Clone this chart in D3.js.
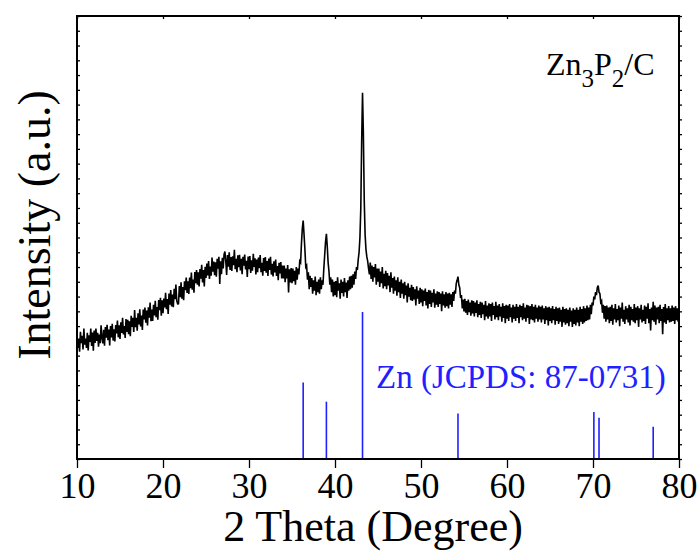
<!DOCTYPE html>
<html>
<head>
<meta charset="utf-8">
<script src="https://cdn.jsdelivr.net/npm/d3@7"></script>
<style>
  body { margin: 0; background: #fff; }
  text { font-family: "Liberation Serif", "Times New Roman", serif; }
</style>
</head>
<body>
<svg id="chart" width="700" height="556"></svg>
<script>
// XRD scan of Zn3P2/C, 2theta from 10 to 80 deg, step 0.1 deg
const thetaStart = 10;
const thetaStep = 0.1;
const intensity = [
  847, 753, 815, 726, 862, 784, 835, 742, 883, 775,           // 10
  816, 752, 854, 735, 837, 793, 884, 766, 857, 734,           // 11
  870, 786, 883, 799, 855, 761, 843, 784, 905, 822,           // 12
  783, 875, 767, 894, 821, 908, 805, 877, 769, 901,           // 13
  823, 915, 802, 879, 796, 908, 850, 937, 824, 906,           // 14
  813, 926, 853, 956, 844, 901, 819, 947, 860, 942,           // 15
  845, 933, 832, 970, 894, 957, 860, 1009, 892, 956,          // 16
  869, 987, 911, 1014, 898, 971, 874, 1013, 946, 1025,        // 17
  923, 1006, 905, 1028, 957, 1060, 933, 1012, 935, 1044,      // 18
  972, 1071, 960, 1029, 943, 1077, 1007, 1091, 970, 1074,     // 19
  988, 1087, 1026, 1125, 1014, 1083, 982, 1121, 1045, 1144,   // 20
  1033, 1113, 1028, 1152, 1082, 1182, 1072, 1050, 1051, 1171, // 21
  1096, 1196, 1085, 1165, 1075, 1204, 1144, 1229, 1124, 1203, // 22
  1118, 1228, 1157, 1262, 1147, 1216, 1126, 1266, 1191, 1280, // 23
  1180, 1264, 1168, 1287, 1221, 1315, 1195, 1279, 1168, 1302, // 24
  1226, 1324, 1243, 1341, 1220, 1303, 1241, 1365, 1268, 1337, // 25
  1245, 1332, 1234, 1356, 1288, 1370, 1185, 1339, 1251, 1363, // 26
  1290, 1386, 1405, 1339, 1246, 1382, 1303, 1400, 1281, 1368, // 27
  1274, 1373, 1313, 1417, 1286, 1356, 1265, 1379, 1299, 1383, // 28
  1277, 1356, 1251, 1370, 1309, 1384, 1283, 1342, 1232, 1371, // 29
  1285, 1375, 1260, 1345, 1275, 1390, 1300, 1360, 1250, 1350, // 30
  1265, 1364, 1292, 1381, 1265, 1328, 1242, 1361, 1274, 1368, // 31
  1262, 1341, 1239, 1358, 1281, 1370, 1249, 1322, 1236, 1339, // 32
  1263, 1351, 1239, 1307, 1210, 1328, 1256, 1334, 1222, 1310, // 33
  1223, 1310, 1197, 1290, 1222, 1314, 1127, 1284, 1196, 1293, // 34
  1190, 1290, 1205, 1275, 1180, 1300, 1215, 1290, 1250, 1340, // 35
  1330, 1460, 1560, 1615, 1520, 1420, 1300, 1310, 1215, 1265, // 36
  1150, 1240, 1165, 1225, 1120, 1210, 1140, 1235, 1110, 1200, // 37
  1130, 1215, 1120, 1230, 1150, 1210, 1180, 1290, 1380, 1470, // 38
  1525, 1440, 1330, 1270, 1180, 1230, 1130, 1215, 1100, 1200, // 39
  1110, 1205, 1095, 1230, 1140, 1190, 1085, 1215, 1125, 1200, // 40
  1100, 1225, 1130, 1195, 1090, 1210, 1140, 1235, 1150, 1240, // 41
  1160, 1250, 1180, 1270, 1220, 1300, 1280, 1350, 1400, 1500, // 42
  1700, 2150, 2480, 2200, 1750, 1520, 1420, 1370, 1340, 1290, // 43
  1250, 1330, 1220, 1310, 1200, 1300, 1230, 1320, 1180, 1290, // 44
  1200, 1290, 1165, 1270, 1190, 1300, 1155, 1255, 1170, 1275, // 45
  1150, 1260, 1175, 1240, 1130, 1265, 1160, 1225, 1120, 1235, // 46
  1140, 1210, 1105, 1230, 1130, 1200, 1090, 1215, 1120, 1190, // 47
  1085, 1200, 1110, 1175, 1060, 1190, 1100, 1160, 1075, 1180, // 48
  1070, 1165, 1080, 1150, 1040, 1170, 1085, 1140, 1050, 1160, // 49
  1060, 1150, 1035, 1140, 1070, 1155, 1040, 1130, 1020, 1145, // 50
  1050, 1140, 1030, 1125, 1060, 1150, 1025, 1120, 1045, 1135, // 51
  1030, 1130, 1050, 1120, 1000, 1135, 1040, 1115, 1025, 1130, // 52
  1035, 1120, 1020, 1125, 1045, 1115, 1030, 1130, 1070, 1140, // 53
  1120, 1190, 1210, 1235, 1180, 1160, 1090, 1110, 1020, 1080, // 54
  1000, 1085, 990, 1070, 975, 1080, 995, 1060, 970, 1075,     // 55
  985, 1070, 965, 1060, 990, 1075, 960, 1050, 975, 1065,      // 56
  955, 1060, 980, 1045, 940, 1070, 965, 1040, 950, 1055,      // 57
  965, 1050, 935, 1060, 975, 1035, 945, 1065, 960, 1040,      // 58
  940, 1050, 965, 1030, 930, 1055, 955, 1035, 920, 1045,      // 59
  950, 1040, 935, 1050, 960, 1025, 925, 1045, 950, 1030,      // 60
  935, 1050, 955, 1030, 920, 1045, 960, 1035, 940, 1055,      // 61
  950, 1025, 930, 1045, 955, 1040, 915, 1035, 945, 1050,      // 62
  940, 1030, 925, 1045, 950, 1025, 930, 1040, 945, 1030,      // 63
  925, 1040, 945, 1020, 915, 1035, 940, 1025, 905, 1030,      // 64
  935, 1020, 920, 1035, 940, 1015, 910, 1030, 935, 1020,      // 65
  915, 1025, 930, 1010, 895, 1030, 925, 1015, 910, 1020,      // 66
  920, 1010, 900, 1025, 930, 1005, 895, 1020, 915, 1010,      // 67
  905, 1025, 925, 1010, 900, 1030, 930, 1015, 915, 1035,      // 68
  925, 1020, 935, 1040, 940, 1025, 945, 1045, 980, 1060,      // 69
  1040, 1100, 1080, 1130, 1110, 1160, 1175, 1130, 1120, 1060, // 70
  1070, 990, 1045, 950, 1035, 930, 1040, 945, 1025, 920,      // 71
  1030, 935, 1045, 910, 1020, 945, 1050, 925, 1015, 940,      // 72
  1040, 900, 1025, 950, 1060, 930, 1010, 915, 1035, 945,      // 73
  1020, 925, 1045, 905, 1030, 940, 1015, 930, 1050, 920,      // 74
  1025, 940, 1035, 895, 1020, 945, 1045, 925, 1010, 935,      // 75
  1040, 915, 1030, 950, 1055, 920, 1015, 870, 1025, 940,      // 76
  1065, 930, 1040, 910, 1025, 945, 1030, 920, 1045, 935,      // 77
  1015, 845, 1030, 925, 1050, 915, 1020, 940, 1035, 925,      // 78
  1020, 930, 1040, 935, 1025, 915, 1035, 940, 1020, 930,      // 79
  1025                                                        // 80
];

// Zn reference pattern (JCPDS 87-0731)
const refTheta = [ 36.3, 39.0, 43.2, 54.3, 70.1, 70.7, 77.0 ];
const refIntensity = [ 52, 39, 100, 31, 32, 28, 22 ];

const xTicks = [ 10, 20, 30, 40, 50, 60, 70, 80 ];

const svg = d3.select( "#chart" );
const margin = { top: 16, left: 77, right: 21, bottom: 97 };
const width = 700 - margin.left - margin.right;
const height = 556 - margin.top - margin.bottom;

const chartGroup = svg.append( "g" )
  .attr( "transform", `translate(${margin.left}, ${margin.top})` );

let x = d3.scaleLinear().domain( [ 10, 80 ] ).range( [ 0, width ] );
let y = d3.scaleLinear().domain( [ 0, 3000 ] ).range( [ height, 0 ] );
let yRef = d3.scaleLinear().domain( [ 0, 100 ] ).range( [ height, height - 147 ] );

let points = intensity.map( ( v, i ) => ( { t: thetaStart + i * thetaStep, v: v } ) );

// XRD curve
chartGroup.append( "path" )
  .datum( points )
  .attr( "fill", "none" )
  .attr( "stroke", "#000" )
  .attr( "stroke-width", 1.6 )
  .attr( "d", d3.line().x( d => x( d.t ) ).y( d => y( d.v ) ) );

// reference sticks
chartGroup.selectAll( ".ref" )
  .data( refTheta )
  .enter().append( "line" )
  .attr( "class", "ref" )
  .attr( "x1", d => x( d ) )
  .attr( "x2", d => x( d ) )
  .attr( "y1", yRef( 0 ) )
  .attr( "y2", ( d, i ) => yRef( refIntensity[ i ] ) )
  .attr( "stroke", "#1f1fff" )
  .attr( "stroke-width", 1.6 );

// axes
let xAxis = chartGroup.append( "g" )
  .attr( "transform", `translate(0, ${height})` )
  .call( d3.axisBottom( x ).tickValues( xTicks ).tickSize( 9 ).tickPadding( 4 ).tickSizeOuter( 0 ) );
xAxis.selectAll( "text" )
  .attr( "font-size", 36 )
  .attr( "font-family", "Liberation Serif" )
  .attr( "fill", "#000" );

chartGroup.append( "g" )
  .call( d3.axisTop( x ).tickValues( xTicks ).tickSize( -3 ).tickFormat( "" ).tickSizeOuter( 0 ) );
chartGroup.append( "g" )
  .call( d3.axisLeft( y ).ticks( 30 ).tickSize( -3 ).tickFormat( "" ).tickSizeOuter( 0 ) );
chartGroup.append( "g" )
  .attr( "transform", `translate(${width}, 0)` )
  .call( d3.axisRight( y ).ticks( 30 ).tickSize( 3 ).tickFormat( "" ).tickSizeOuter( 0 ) );

chartGroup.selectAll( ".domain" ).remove();
chartGroup.selectAll( ".tick line" ).attr( "stroke", "#000" ).attr( "stroke-width", 1.3 );

// frame
chartGroup.append( "rect" )
  .attr( "width", width )
  .attr( "height", height )
  .attr( "fill", "none" )
  .attr( "stroke", "#000" )
  .attr( "stroke-width", 2 );

// labels
svg.append( "text" )
  .attr( "x", 373 )
  .attr( "y", 541 )
  .attr( "text-anchor", "middle" )
  .attr( "font-size", 44 )
  .text( "2 Theta (Degree)" );

svg.append( "text" )
  .attr( "transform", "translate(50, 225) rotate(-90)" )
  .attr( "text-anchor", "middle" )
  .attr( "font-size", 46 )
  .text( "Intensity (a.u.)" );

let sample = svg.append( "text" )
  .attr( "x", 546 )
  .attr( "y", 75 )
  .attr( "font-size", 32 );
sample.append( "tspan" ).text( "Zn" );
sample.append( "tspan" ).attr( "dy", 12 ).attr( "font-size", 25 ).text( "3" );
sample.append( "tspan" ).attr( "dy", -12 ).text( "P" );
sample.append( "tspan" ).attr( "dy", 12 ).attr( "font-size", 25 ).text( "2" );
sample.append( "tspan" ).attr( "dy", -12 ).text( "/C" );

svg.append( "text" )
  .attr( "x", 376 )
  .attr( "y", 388 )
  .attr( "font-size", 33 )
  .attr( "fill", "#1f1fff" )
  .text( "Zn (JCPDS: 87-0731)" );
</script>
</body>
</html>
